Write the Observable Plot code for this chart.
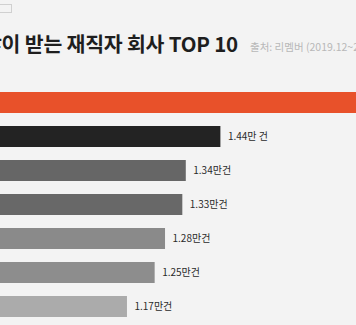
<!DOCTYPE html>
<html>
<head>
<meta charset="utf-8">
<script src="https://cdn.jsdelivr.net/npm/d3@7"></script>
<script src="https://cdn.jsdelivr.net/npm/@observablehq/plot@0.6"></script>
<style>
  html, body { margin: 0; padding: 0; background: #f3f3f3; overflow: hidden; }
  #wrap { position: relative; width: 356px; height: 325px; overflow: hidden; background: #f3f3f3;
          font-family: "Noto Sans CJK KR", "Noto Sans", sans-serif; }
  #title { position: absolute; right: 118px; top: 28px; white-space: nowrap;
           font-size: 20.5px; font-weight: 700; color: #1e1e1e; letter-spacing: -0.2px; }
  #source { position: absolute; left: 250px; top: 39px; white-space: nowrap;
            font-size: 10.5px; color: #b8b8b8; }
  #box { position: absolute; left: -4px; top: 4px; width: 14px; height: 7px; border: 1.5px solid #d0d0d0; }
  #chart { position: absolute; left: 0; top: 0; }
</style>
</head>
<body>
<div id="wrap">
  <div id="box"></div>
  <div id="title">스카우트 제안 많이 받는 재직자 회사 TOP 10</div>
  <div id="source">출처: 리멤버 (2019.12~2020.11)</div>
  <div id="chart"></div>
</div>
<script>
// Data (values in 만 건); rank 1 label is outside the visible crop (estimated value)
const ranks = ["1위", "2위", "3위", "4위", "5위", "6위", "7위"];
const values = [1.95, 1.44, 1.34, 1.33, 1.28, 1.25, 1.17];
const labels = ["", "1.44만 건", "1.34만건", "1.33만건", "1.28만건", "1.25만건", "1.17만건"];

const data = ranks.map((r, i) => ({rank: r, value: values[i], label: labels[i]}));

const chart = Plot.plot({
  width: 356,
  height: 325,
  marginLeft: 0,
  marginRight: 0,
  marginTop: 85,
  marginBottom: 1,
  style: {background: "transparent", overflow: "hidden"},
  x: {domain: [0.803, 1.832], axis: null},
  y: {domain: ranks, axis: null, paddingInner: 0.37, paddingOuter: 0.185, align: 0.5},
  color: {domain: ranks, range: ["#e8512a", "#232323", "#666666", "#686868", "#8a8a8a", "#8d8d8d", "#ababab"]},
  marks: [
    Plot.barX(data, {y: "rank", x: "value", fill: "rank", clip: true}),
    Plot.text(data.filter(d => d.label), {
      y: "rank", x: "value", text: "label", dx: 7, textAnchor: "start",
      fill: "#2a2a2a", fontSize: 10, fontFamily: "Noto Sans CJK KR", style: "letter-spacing:-0.7px"
    })
  ]
});
document.getElementById("chart").appendChild(chart);
</script>
</body>
</html>
